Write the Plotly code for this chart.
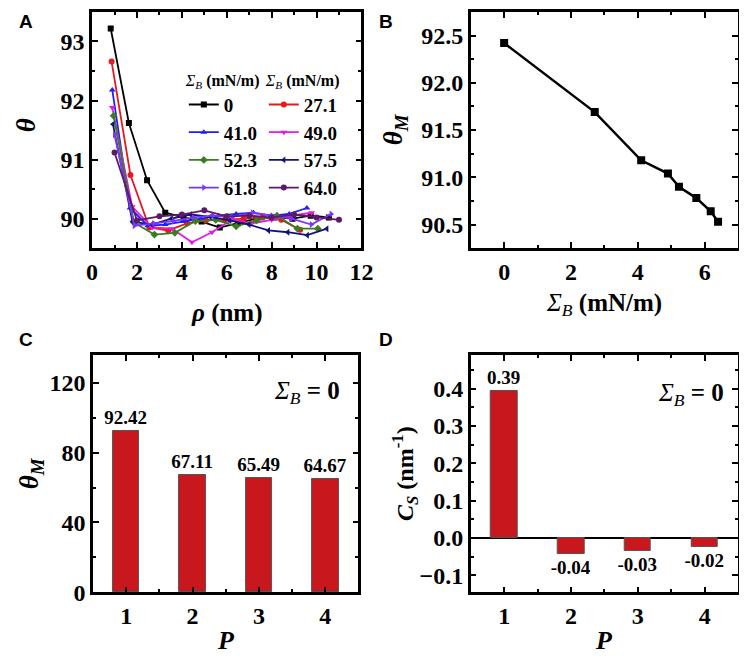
import plotly.graph_objects as go

W, H = 747, 660
SERIF = "Liberation Serif"
SANS = "Liberation Sans"

# ---- panel A: theta vs rho for several Sigma_B ----
sigma_labels = ["0", "27.1", "41.0", "49.0", "52.3", "57.5", "61.8", "64.0"]
colors = ["#000000", "#E41A1C", "#1E1EFF", "#E619E6", "#3A7D1E", "#12127A", "#7A35FF", "#5C1A68"]
symbols = ["square", "circle", "triangle-up", "triangle-down", "diamond",
           "triangle-left", "triangle-right", "circle"]

rho_0 = [0.83, 1.64, 2.45, 3.26, 4.07, 4.88, 5.69, 6.50, 7.31, 8.12, 8.93, 9.74, 10.55]
theta_0 = [93.22, 91.62, 90.65, 90.10, 90.02, 89.95, 89.85, 89.92, 90.00, 90.02, 90.00, 90.05, 90.02]
rho_271 = [0.87, 1.71, 2.55, 3.39, 4.23, 5.07, 5.91, 6.75, 7.59, 8.43, 9.27]
theta_271 = [92.66, 90.74, 89.85, 89.80, 89.92, 89.97, 89.98, 90.00, 90.02, 89.98, 89.81]
rho_410 = [0.90, 1.69, 2.48, 3.26, 4.05, 4.84, 5.63, 6.42, 7.20, 7.99, 8.78, 9.57]
theta_410 = [92.18, 90.18, 89.88, 89.90, 89.95, 90.00, 90.05, 90.08, 90.10, 90.05, 90.08, 90.18]
rho_490 = [0.90, 1.79, 2.68, 3.56, 4.45, 5.34, 6.23, 7.12, 8.00, 8.89, 9.78]
theta_490 = [91.88, 90.20, 89.85, 89.83, 89.60, 89.77, 89.98, 89.92, 89.98, 90.05, 90.10]
rho_523 = [0.96, 1.87, 2.78, 3.69, 4.60, 5.51, 6.42, 7.33, 8.24, 9.15, 10.06]
theta_523 = [91.74, 89.93, 89.73, 89.76, 89.96, 89.98, 89.87, 89.97, 90.05, 89.83, 89.83]
rho_575 = [0.93, 1.80, 2.66, 3.53, 4.39, 5.26, 6.13, 6.99, 7.86, 8.72, 9.59, 10.46]
theta_575 = [91.60, 89.95, 89.90, 90.00, 90.07, 90.03, 89.97, 89.90, 89.80, 89.77, 89.72, 89.83]
rho_618 = [1.00, 1.88, 2.75, 3.63, 4.51, 5.39, 6.26, 7.14, 8.02, 8.89, 9.77, 10.65]
theta_618 = [91.42, 89.88, 89.92, 89.96, 90.02, 90.05, 90.03, 90.10, 90.05, 90.00, 89.90, 90.08]
rho_640 = [1.0, 2.0, 3.0, 4.0, 5.0, 6.0, 7.0, 8.0, 9.0, 10.0, 11.0]
theta_640 = [91.12, 89.97, 90.04, 90.07, 90.14, 90.04, 90.05, 90.02, 90.07, 90.02, 89.98]

rho_sets = [rho_0, rho_271, rho_410, rho_490, rho_523, rho_575, rho_618, rho_640]
theta_sets = [theta_0, theta_271, theta_410, theta_490, theta_523, theta_575, theta_618, theta_640]

# ---- panel B ----
sigma_b = [0.0, 2.71, 4.10, 4.90, 5.23, 5.75, 6.18, 6.40]
theta_m = [92.42, 91.69, 91.18, 91.04, 90.90, 90.78, 90.64, 90.53]

# ---- panels C, D ----
p_vals = [1, 2, 3, 4]
theta_m_p = [92.42, 67.11, 65.49, 64.67]
theta_m_txt = ["92.42", "67.11", "65.49", "64.67"]
cs_p = [0.394, -0.043, -0.034, -0.024]
cs_txt = ["0.39", "-0.04", "-0.03", "-0.02"]


def dom_x(a, b):
    return [a / W, b / W]


def dom_y(top, bottom):
    return [1 - bottom / H, 1 - top / H]


def axis_style(dtick, minor_dtick, rng, **kw):
    d = dict(
        range=rng, dtick=dtick, showline=True, linecolor="black", linewidth=2.5,
        mirror="allticks", ticks="inside", ticklen=6, tickwidth=2, tickcolor="black",
        showgrid=False, zeroline=False,
        tickfont=dict(family=SERIF, size=24, color="black", weight="bold"),
        minor=dict(dtick=minor_dtick, ticks="inside", ticklen=3.5, tickwidth=2,
                   tickcolor="black", showgrid=False),
    )
    d.update(kw)
    return d


fig = go.Figure()

for i in range(len(sigma_labels)):
    fig.add_trace(go.Scatter(
        x=rho_sets[i], y=theta_sets[i], mode="lines+markers", name=sigma_labels[i],
        line=dict(color=colors[i], width=1.8),
        marker=dict(symbol=symbols[i], size=6, color=colors[i]),
        xaxis="x", yaxis="y",
        legend="legend" if i % 2 == 0 else "legend2",
    ))

fig.add_trace(go.Scatter(
    x=sigma_b, y=theta_m, mode="lines+markers", showlegend=False,
    line=dict(color="black", width=2.5),
    marker=dict(symbol="square", size=8, color="black"),
    xaxis="x2", yaxis="y2",
))

bar_font = dict(family=SERIF, size=19, color="black", weight="bold")
fig.add_trace(go.Bar(
    x=p_vals, y=theta_m_p, width=0.4, text=theta_m_txt, textposition="outside",
    constraintext="none", cliponaxis=False, textfont=bar_font, showlegend=False,
    marker=dict(color="#C8181D", line=dict(color="#555555", width=1)),
    xaxis="x3", yaxis="y3",
))
fig.add_trace(go.Bar(
    x=p_vals, y=cs_p, width=0.4, text=cs_txt, textposition="outside",
    constraintext="none", cliponaxis=False, textfont=bar_font, showlegend=False,
    marker=dict(color="#C8181D", line=dict(color="#555555", width=1)),
    xaxis="x4", yaxis="y4",
))

A_X, B_X = (80, 356), (468, 742)
C_X, D_X = (81, 353), (468, 742)
TOP_Y, BOT_Y = (4, 245), (354, 596)

legend_common = dict(
    bgcolor="rgba(0,0,0,0)", xanchor="left", yanchor="top",
    font=dict(family=SERIF, size=19, color="black", weight="bold"),
    title=dict(text="<i>Σ<sub>B</sub></i> <b>(mN/m)</b>",
               font=dict(family=SERIF, size=16, color="black", weight="normal")),
    tracegroupgap=0, itemwidth=30,
)

fig.update_layout(
    width=W, height=H, margin=dict(l=0, r=0, t=0, b=0),
    paper_bgcolor="white", plot_bgcolor="white",
    bargap=0,
    xaxis=axis_style(2, 1, [0, 12], domain=dom_x(*A_X), anchor="y"),
    yaxis=axis_style(1, 0.5, [89.5, 93.5], domain=dom_y(*TOP_Y), anchor="x"),
    xaxis2=axis_style(2, 1, [-1, 7], domain=dom_x(*B_X), anchor="y2"),
    yaxis2=axis_style(0.5, 0.25, [90.25, 92.75], domain=dom_y(*TOP_Y), anchor="x2",
                      tickformat=".1f"),
    xaxis3=axis_style(1, 0.5, [0.5, 4.5], domain=dom_x(*C_X), anchor="y3"),
    yaxis3=axis_style(40, 20, [0, 136], domain=dom_y(*BOT_Y), anchor="x3"),
    xaxis4=axis_style(1, 0.5, [0.5, 4.5], domain=dom_x(*D_X), anchor="y4"),
    yaxis4=axis_style(0.1, 0.05, [-0.145, 0.49], domain=dom_y(*BOT_Y), anchor="x4",
                      tickformat=".1f", zeroline=True, zerolinecolor="black",
                      zerolinewidth=2),
    legend=dict(legend_common, x=174 / W, y=1 - 58 / H),
    legend2=dict(legend_common, x=256 / W, y=1 - 58 / H),
)

ann = []


def add_text(x, y, text, size, angle=0, family=SERIF, weight="bold", xanchor="center"):
    ann.append(dict(
        x=x / W, y=1 - y / H, xref="paper", yref="paper", text=text, showarrow=False,
        textangle=angle, xanchor=xanchor, yanchor="middle",
        font=dict(family=family, size=size, color="black", weight=weight),
    ))


# panel letters
add_text(3, 14, "A", 19, family=SANS, xanchor="left")
add_text(372, 14, "B", 19, family=SANS, xanchor="left")
add_text(3, 338, "C", 19, family=SANS, xanchor="left")
add_text(372, 338, "D", 19, family=SANS, xanchor="left")

# axis titles
add_text(218, 311, "<i>ρ</i> (nm)", 25)
add_text(12, 120, "<i>θ</i>", 27, angle=-90)
add_text(605, 302, "<i>Σ<sub>B</sub></i> <b>(mN/m)</b>", 25, weight="normal")
add_text(390, 124, "<i>θ<sub>M</sub></i>", 27, angle=-90)
add_text(217, 645, "<i>P</i>", 26)
add_text(17, 475, "<i>θ<sub>M</sub></i>", 27, angle=-90)
add_text(605, 645, "<i>P</i>", 26)
add_text(400, 475, "<i>C<sub>S</sub></i> (nm<sup>-1</sup>)", 24, angle=-90)

# in-panel notes
add_text(300, 392, "<i>Σ<sub>B</sub></i><b> = 0</b>", 25, weight="normal")
add_text(694, 394, "<i>Σ<sub>B</sub></i><b> = 0</b>", 25, weight="normal")

fig.update_layout(annotations=ann)

fig.write_html("out.html")
